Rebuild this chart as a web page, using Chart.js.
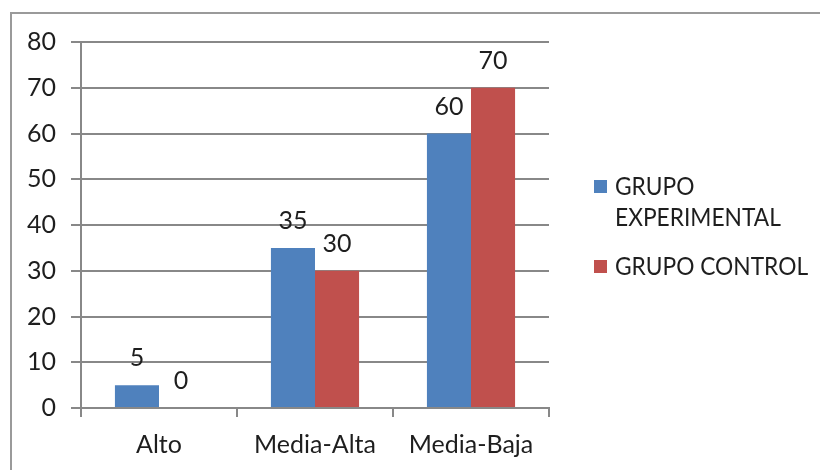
<!DOCTYPE html>
<html lang="es">
<head>
    <meta charset="UTF-8">
    <title>Grupos</title>
    <script src="https://cdn.jsdelivr.net/npm/chart.js"></script>
    <style>
        html, body { margin: 0; padding: 0; background: #fff; overflow: hidden; }
        .frame {
            position: absolute; left: 10px; top: 12px; width: 900px; height: 600px;
            border-top: 2px solid #9a9a9a; border-left: 2px solid #9a9a9a;
        }
        .wrap { position: absolute; left: 0; top: 0; width: 820px; height: 470px; }
    </style>
</head>
<body>
    <div class="frame"></div>
    <div class="wrap"><canvas id="chart"></canvas></div>
    <script>
        const categories = ['Alto', 'Media-Alta', 'Media-Baja'];
        const experimental = [5, 35, 60];
        const control = [0, 30, 70];
        const seriesNames = [['GRUPO', 'EXPERIMENTAL'], ['GRUPO CONTROL']];
        const yTicks = [0, 10, 20, 30, 40, 50, 60, 70, 80];

        const FONT = 'Lato';
        const SIZE = 25;
        const TEXT = '#1e1e1e';
        const GRID = '#888888';

        // numbers above each bar
        const valueLabels = {
            id: 'valueLabels',
            afterDatasetsDraw(chart) {
                const ctx = chart.ctx;
                ctx.save();
                ctx.font = SIZE + 'px "' + FONT + '"';
                ctx.fillStyle = TEXT;
                ctx.textAlign = 'center';
                ctx.textBaseline = 'alphabetic';
                chart.data.datasets.forEach((ds, i) => {
                    chart.getDatasetMeta(i).data.forEach((bar, j) => {
                        ctx.fillText(String(ds.data[j]), bar.x, bar.y - 19);
                    });
                });
                ctx.restore();
            }
        };

        // legend on the right, with the first name split on two lines
        const sideLegend = {
            id: 'sideLegend',
            afterDraw(chart) {
                const ctx = chart.ctx;
                ctx.save();
                ctx.font = SIZE + 'px "' + FONT + '"';
                ctx.textBaseline = 'middle';
                ctx.textAlign = 'left';
                const rows = [187, 267];
                chart.data.datasets.forEach((ds, i) => {
                    const y = rows[i];
                    ctx.fillStyle = ds.backgroundColor;
                    ctx.fillRect(594, y - 7, 13, 13);
                    ctx.fillStyle = TEXT;
                    seriesNames[i].forEach((line, k) => {
                        // Lato capitals run wider than the original face, squeeze a bit
                        ctx.save();
                        ctx.translate(615, y + k * 31);
                        ctx.scale(0.91, 1);
                        ctx.fillText(line, 0, 0);
                        ctx.restore();
                    });
                });
                ctx.restore();
            }
        };

        new Chart(document.getElementById('chart').getContext('2d'), {
            type: 'bar',
            data: {
                labels: categories,
                datasets: [
                    { label: seriesNames[0].join(' '), data: experimental, backgroundColor: '#4f81bd' },
                    { label: seriesNames[1].join(' '), data: control, backgroundColor: '#c0504d' }
                ]
            },
            options: {
                responsive: true,
                maintainAspectRatio: false,
                animation: false,
                layout: { padding: { top: 42, right: 271, bottom: 0, left: 0 } },
                datasets: { bar: { categoryPercentage: 0.565, barPercentage: 1.0 } },
                plugins: { legend: { display: false }, tooltip: { enabled: false } },
                scales: {
                    x: {
                        afterFit(scale) { scale.height = 62; },
                        grid: { offset: true, drawOnChartArea: false, drawTicks: true, tickLength: 9, color: GRID, lineWidth: 2 },
                        border: { color: GRID, width: 2 },
                        ticks: { color: TEXT, font: { family: FONT, size: SIZE }, padding: 13, maxRotation: 0 }
                    },
                    y: {
                        min: 0,
                        max: 80,
                        afterFit(scale) { scale.width = 81; },
                        afterBuildTicks(scale) { scale.ticks = yTicks.map(v => ({ value: v })); },
                        grid: { color: GRID, lineWidth: 2, tickLength: 10 },
                        border: { color: GRID, width: 2 },
                        ticks: { color: TEXT, font: { family: FONT, size: SIZE }, padding: 15 }
                    }
                }
            },
            plugins: [valueLabels, sideLegend]
        });
    </script>
</body>
</html>
